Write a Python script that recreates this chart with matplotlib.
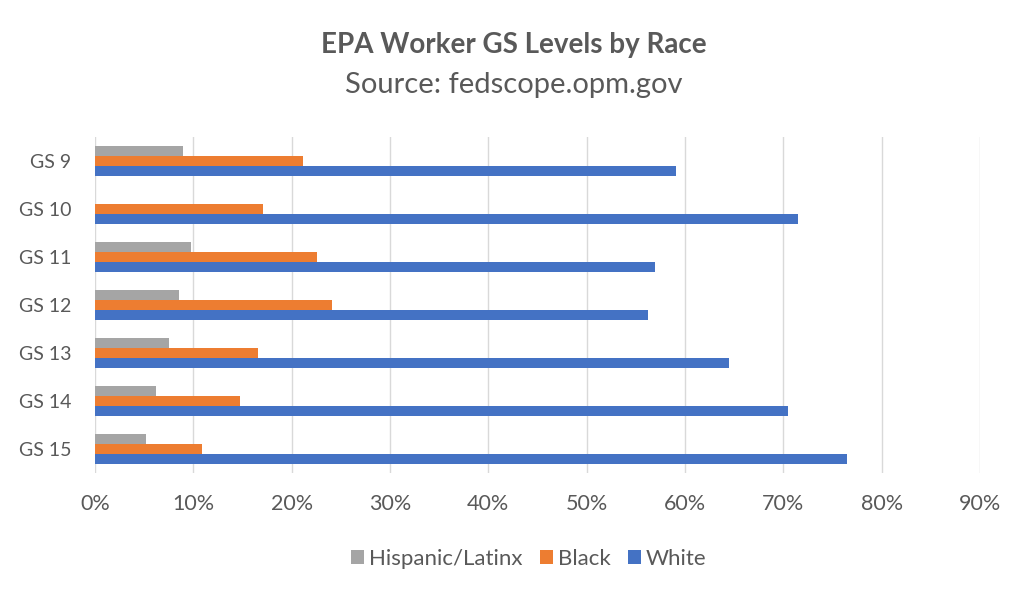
import numpy as np
import matplotlib.pyplot as plt
from matplotlib.ticker import PercentFormatter

levels = ["GS 9", "GS 10", "GS 11", "GS 12", "GS 13", "GS 14", "GS 15"]
hispanic = [0.090, 0.0, 0.098, 0.085, 0.075, 0.062, 0.052]
black = [0.212, 0.171, 0.226, 0.241, 0.166, 0.147, 0.109]
white = [0.591, 0.715, 0.570, 0.562, 0.645, 0.705, 0.765]

series = ["Hispanic/Latinx", "Black", "White"]
colors = ["#A5A5A5", "#ED7D31", "#4472C4"]
text_col = "#595959"

plt.rcParams["font.family"] = ["Lato", "DejaVu Sans"]

fig = plt.figure(figsize=(10.2, 5.93), dpi=100)
ax = fig.add_axes([0.0931, 0.2024, 0.8677, 0.5666])

y = np.arange(len(levels))
h = 0.21
for i, (name, vals) in enumerate(zip(series, [hispanic, black, white])):
    ax.barh(y + (i - 1) * h, vals, height=h, color=colors[i], label=name, zorder=3)

ax.set_xlim(0, 0.9)
ax.set_ylim(len(levels) - 0.5, -0.5)
ax.set_xticks(np.arange(0, 0.91, 0.1))
ax.xaxis.set_major_formatter(PercentFormatter(1.0, decimals=0))
ax.set_yticks(y)
ax.set_yticklabels(levels)
ax.grid(axis="x", color="#D9D9D9", linewidth=1, zorder=0)
for s in ax.spines.values():
    s.set_visible(False)
ax.tick_params(axis="both", length=0, colors=text_col)
ax.tick_params(axis="x", pad=15, labelsize=15.5)
ax.tick_params(axis="y", pad=17, labelsize=14)

fig.text(0.504, 0.924, "EPA Worker GS Levels by Race", ha="center", va="center",
         fontsize=20, fontweight="bold", color=text_col)
fig.text(0.504, 0.857, "Source: fedscope.opm.gov", ha="center", va="center",
         fontsize=21, color=text_col)

ax.legend(loc="center", bbox_to_anchor=(0.49, -0.255), ncol=3, frameon=False,
          fontsize=16, handlelength=0.6, handleheight=0.6, handletextpad=0.2,
          columnspacing=0.8, labelcolor=text_col)

fig.savefig("out.png", dpi=100)
